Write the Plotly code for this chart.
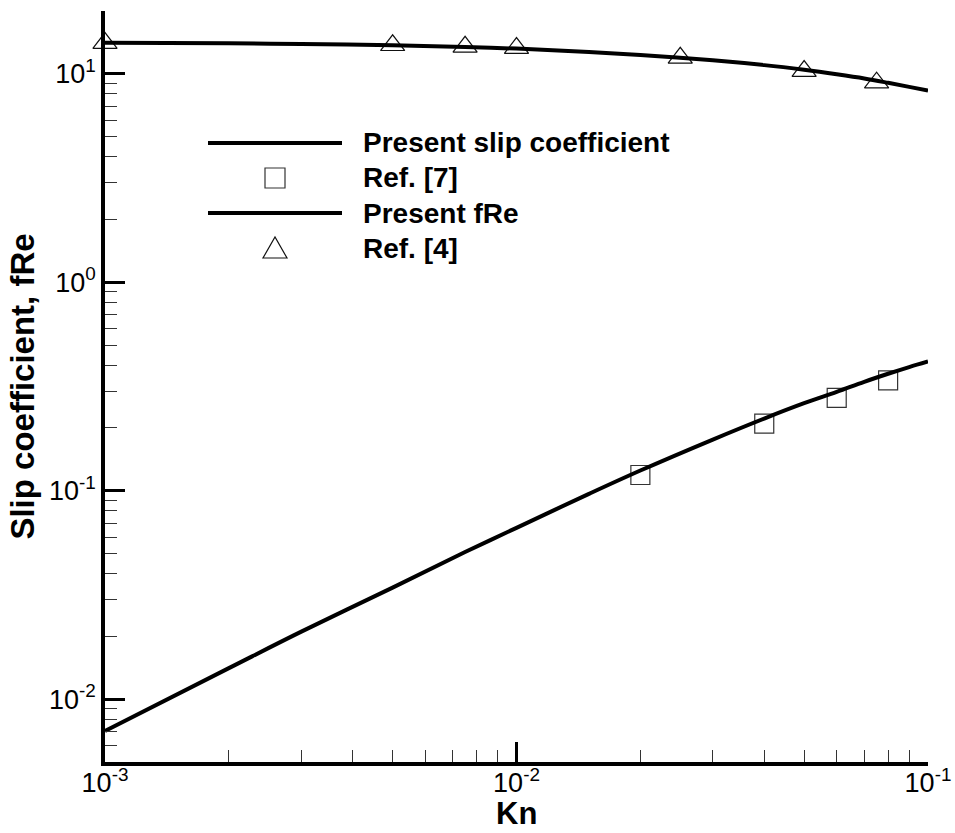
import plotly.graph_objects as go

# ---- data ----
kn_line = [0.001, 0.002, 0.003, 0.005, 0.0075, 0.01, 0.015, 0.02, 0.03, 0.04,
           0.05, 0.06, 0.07, 0.08, 0.09, 0.1]
slip_present = [0.00705, 0.0141, 0.0211, 0.0343, 0.0508, 0.0664, 0.0966, 0.125,
                0.176, 0.222, 0.263, 0.298, 0.333, 0.364, 0.392, 0.417]
fre_present = [14.1, 14.0, 13.9, 13.72, 13.45, 13.2, 12.7, 12.3, 11.6, 11.0,
               10.45, 9.95, 9.5, 9.05, 8.65, 8.3]

kn_ref7 = [0.02, 0.04, 0.06, 0.08]
slip_ref7 = [0.119, 0.21, 0.279, 0.338]

kn_ref4 = [0.001, 0.005, 0.0075, 0.01, 0.025, 0.05, 0.075]
fre_ref4 = [14.03, 13.7, 13.47, 13.28, 11.93, 10.3, 9.06]

x_major = [0.001, 0.01, 0.1]
x_major_text = ["10<sup>-3</sup>", "10<sup>-2</sup>", "10<sup>-1</sup>"]
x_minor = [0.002, 0.003, 0.004, 0.005, 0.006, 0.007, 0.008, 0.009,
           0.02, 0.03, 0.04, 0.05, 0.06, 0.07, 0.08, 0.09]
y_major = [0.01, 0.1, 1, 10]
y_major_text = ["10<sup>-2</sup>", "10<sup>-1</sup>", "10<sup>0</sup>", "10<sup>1</sup>"]
y_minor = [0.006, 0.007, 0.008, 0.009,
           0.02, 0.03, 0.04, 0.05, 0.06, 0.07, 0.08, 0.09,
           0.2, 0.3, 0.4, 0.5, 0.6, 0.7, 0.8, 0.9,
           2, 3, 4, 5, 6, 7, 8, 9, 20]

legend_labels = ["Present slip coefficient", "Ref. [7]", "Present fRe", "Ref. [4]"]
x_title = "Kn"
y_title = "Slip coefficient, fRe"

FONT = "Liberation Sans, Arial, sans-serif"

# ---- layout geometry (pixels) ----
W_PX, H_PX = 955, 833
L, R, T, B = 105, 27, 11, 71
PW = W_PX - L - R
PH = H_PX - T - B


def px(xp):
    return (xp - L) / PW


def py(yp):
    return (H_PX - B - yp) / PH


fig = go.Figure()

fig.add_trace(go.Scatter(x=kn_ref7, y=slip_ref7, mode="markers", cliponaxis=False,
                         marker=dict(symbol="square-open", size=19, color="#333",
                                     line=dict(width=1.2, color="#333")),
                         showlegend=False))
fig.add_trace(go.Scatter(x=kn_ref4, y=fre_ref4, mode="markers", cliponaxis=False,
                         marker=dict(symbol="triangle-up-open", size=21, color="#111",
                                     line=dict(width=1.2, color="#111")),
                         showlegend=False))
fig.add_trace(go.Scatter(x=kn_line, y=slip_present, mode="lines", line_shape="spline",
                         line=dict(color="black", width=4), showlegend=False))
fig.add_trace(go.Scatter(x=kn_line, y=fre_present, mode="lines", line_shape="spline",
                         line=dict(color="black", width=4), showlegend=False))

axis_common = dict(
    type="log", showline=True, linecolor="black", linewidth=3.5, mirror=False,
    ticks="inside", ticklen=20, tickwidth=3, tickcolor="black",
    tickmode="array", showgrid=False, zeroline=False,
    tickfont=dict(family=FONT, size=27, color="black"),
)

fig.update_xaxes(
    **axis_common, range=[-3, -1], tickvals=x_major, ticktext=x_major_text,
    ticklabelstandoff=-6,
    minor=dict(tickmode="array", tickvals=x_minor, ticks="inside", ticklen=12,
               tickwidth=1.2, tickcolor="#333", showgrid=False),
)
fig.update_yaxes(
    **axis_common, range=[-2.30103, 1.30103], tickvals=y_major, ticktext=y_major_text,
    minor=dict(tickmode="array", tickvals=y_minor, ticks="inside", ticklen=12,
               tickwidth=1.2, tickcolor="#333", showgrid=False),
    title=dict(text=y_title,
               font=dict(family=FONT, size=33, color="black", weight="bold"),
               standoff=5),
)

# ---- custom legend ----
rows = [143, 178, 213, 248]
shapes = []
annotations = []
for r in (rows[0], rows[2]):
    shapes.append(dict(type="line", xref="paper", yref="paper",
                       x0=px(208), x1=px(342), y0=py(r), y1=py(r),
                       line=dict(color="black", width=4)))
sq = 10
shapes.append(dict(type="rect", xref="paper", yref="paper",
                   x0=px(275 - sq), x1=px(275 + sq), y0=py(rows[1] - sq), y1=py(rows[1] + sq),
                   line=dict(color="#333", width=1.2)))
tx, ty = 275, rows[3]
tri = "M {a},{b} L {c},{d} L {e},{f} Z".format(
    a=px(tx - 12), b=py(ty + 10), c=px(tx + 12), d=py(ty + 10), e=px(tx), f=py(ty - 11))
shapes.append(dict(type="path", xref="paper", yref="paper", path=tri,
                   line=dict(color="#111", width=1.2)))
for r, lab in zip(rows, legend_labels):
    annotations.append(dict(xref="paper", yref="paper", x=px(361), y=py(r),
                            xanchor="left", yanchor="middle", text=lab, showarrow=False,
                            font=dict(family=FONT, size=28, color="black", weight="bold")))

# x axis title as an annotation for precise placement
annotations.append(dict(xref="paper", yref="paper", x=0.5, y=py(832),
                        xanchor="center", yanchor="bottom", text=x_title, showarrow=False,
                        borderpad=0,
                        font=dict(family=FONT, size=31, color="black", weight="bold")))

fig.update_layout(
    width=W_PX, height=H_PX,
    margin=dict(l=L, r=R, t=T, b=B, autoexpand=False),
    paper_bgcolor="white", plot_bgcolor="white",
    shapes=shapes, annotations=annotations,
    font=dict(family=FONT, color="black"),
)

fig.write_html("out.html")
